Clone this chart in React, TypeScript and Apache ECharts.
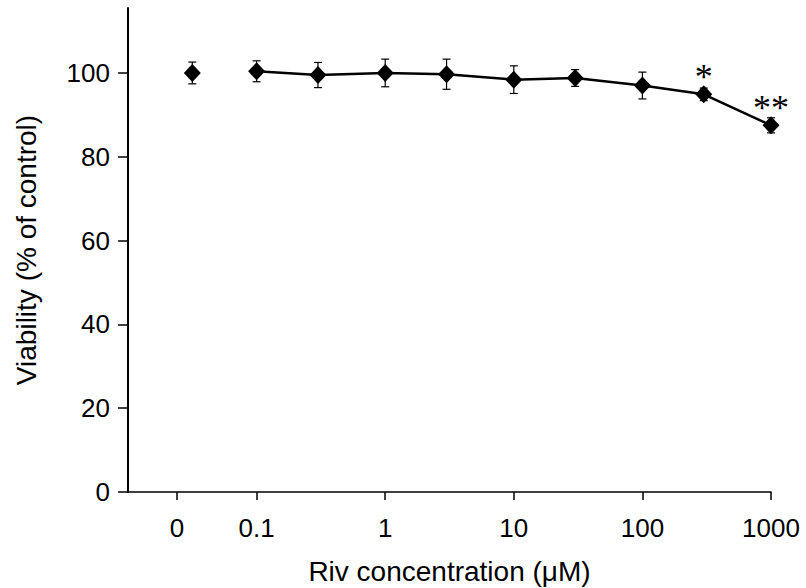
import React, { useEffect, useRef } from "react";
import * as echarts from "echarts";

// Riv concentrations (µM) and measured viability (% of control)
const concentrations = [0, 0.1, 0.3, 1, 3, 10, 30, 100, 300, 1000];
const viability = [100.0, 100.4, 99.5, 100.0, 99.7, 98.4, 98.8, 97.0, 94.9, 87.5];
const errors = [2.6, 2.5, 3.0, 3.3, 3.6, 3.3, 2.0, 3.2, 1.5, 1.8];
const significance = ["", "", "", "", "", "", "", "", "*", "**"];

// x tick labels (log scale, with the control "0" shown at the left)
const xTickLabels = ["0", "0.1", "1", "10", "100", "1000"];
const xTickConcs = [0, 0.1, 1, 10, 100, 1000];
const yTicks = [0, 20, 40, 60, 80, 100];

// axis placement of the zero-concentration control on the log axis
const ZERO_POINT_POS = -1.5;
const ZERO_TICK_POS = -1.62;

const pointPos = (c: number) => (c === 0 ? ZERO_POINT_POS : Math.log10(c));
const tickPos = (c: number) => (c === 0 ? ZERO_TICK_POS : Math.log10(c));

const FONT = "Liberation Sans, Arial, sans-serif";

export default function App() {
  const ref = useRef<HTMLDivElement>(null);
  useEffect(() => {
    if (!ref.current) return;
    const chart = echarts.init(ref.current, null, { renderer: "svg" });
    const tickPositions = xTickConcs.map(tickPos);

    const lineData = concentrations
      .map((c, i) => ({ c, i }))
      .filter((d) => d.c > 0)
      .map(({ c, i }) => ({
        value: [pointPos(c), viability[i]],
        label: significance[i]
          ? {
              show: true,
              formatter: significance[i],
            }
          : { show: false },
      }));
    const controlData = concentrations
      .map((c, i) => ({ c, i }))
      .filter((d) => d.c === 0)
      .map(({ c, i }) => [pointPos(c), viability[i]]);
    const errData = concentrations.map((c, i) => [pointPos(c), viability[i], errors[i]]);

    chart.setOption({
      animation: false,
      backgroundColor: "#ffffff",
      grid: {
        left: 128,
        right: 35,
        top: 8,
        bottom: 96,
        containLabel: false,
        outerBoundsMode: "none",
      },
      xAxis: {
        type: "value",
        min: -2,
        max: 3,
        name: "Riv concentration (μM)",
        nameLocation: "middle",
        nameGap: 65,
        nameTextStyle: { fontSize: 28, color: "#000", fontFamily: FONT },
        axisLine: { show: true, onZero: false, lineStyle: { color: "#000", width: 1.5 } },
        axisTick: {
          show: true,
          length: 8,
          customValues: tickPositions,
          lineStyle: { color: "#000", width: 1.5 },
        },
        axisLabel: {
          customValues: tickPositions,
          margin: 23,
          fontSize: 26,
          color: "#000",
          fontFamily: FONT,
          formatter: (v: number) => {
            let best = 0;
            tickPositions.forEach((p, k) => {
              if (Math.abs(p - v) < Math.abs(tickPositions[best] - v)) best = k;
            });
            return xTickLabels[best];
          },
        },
        splitLine: { show: false },
      },
      yAxis: {
        type: "value",
        min: 0,
        max: 115.5,
        name: "Viability (% of control)",
        nameLocation: "middle",
        nameGap: 88,
        nameTextStyle: { fontSize: 28, color: "#000", fontFamily: FONT },
        axisLine: { show: true, onZero: false, lineStyle: { color: "#000", width: 2 } },
        axisTick: {
          show: true,
          length: 10,
          customValues: yTicks,
          lineStyle: { color: "#000", width: 1.5 },
        },
        axisLabel: {
          customValues: yTicks,
          margin: 18,
          fontSize: 26,
          color: "#000",
          fontFamily: FONT,
        },
        splitLine: { show: false },
      },
      series: [
        {
          type: "custom",
          z: 1,
          data: errData,
          renderItem: (params: any, api: any) => {
            const x = api.value(0);
            const y = api.value(1);
            const e = api.value(2);
            const top = api.coord([x, y + e]);
            const bot = api.coord([x, y - e]);
            const hw = 4;
            const st = { stroke: "#000", lineWidth: 1.2 };
            return {
              type: "group",
              children: [
                { type: "line", shape: { x1: top[0], y1: top[1], x2: bot[0], y2: bot[1] }, style: st },
                { type: "line", shape: { x1: top[0] - hw, y1: top[1], x2: top[0] + hw, y2: top[1] }, style: st },
                { type: "line", shape: { x1: bot[0] - hw, y1: bot[1], x2: bot[0] + hw, y2: bot[1] }, style: st },
              ],
            };
          },
        },
        {
          type: "line",
          z: 3,
          data: lineData,
          symbol: "diamond",
          symbolSize: [17, 18],
          lineStyle: { color: "#000", width: 2.5 },
          itemStyle: { color: "#000", opacity: 1 },
          label: {
            position: "top",
            distance: 0,
            offset: [0, 10],
            fontSize: 36,
            color: "#000",
            fontFamily: "Liberation Serif, Times New Roman, serif",
          },
        },
        {
          type: "scatter",
          z: 3,
          data: controlData,
          symbol: "diamond",
          symbolSize: [17, 18],
          itemStyle: { color: "#000", opacity: 1 },
        },
      ],
    });
    return () => chart.dispose();
  }, []);
  return (
    <div
      ref={ref}
      style={{ position: "absolute", left: 0, top: 0, width: 806, height: 588 }}
    />
  );
}
